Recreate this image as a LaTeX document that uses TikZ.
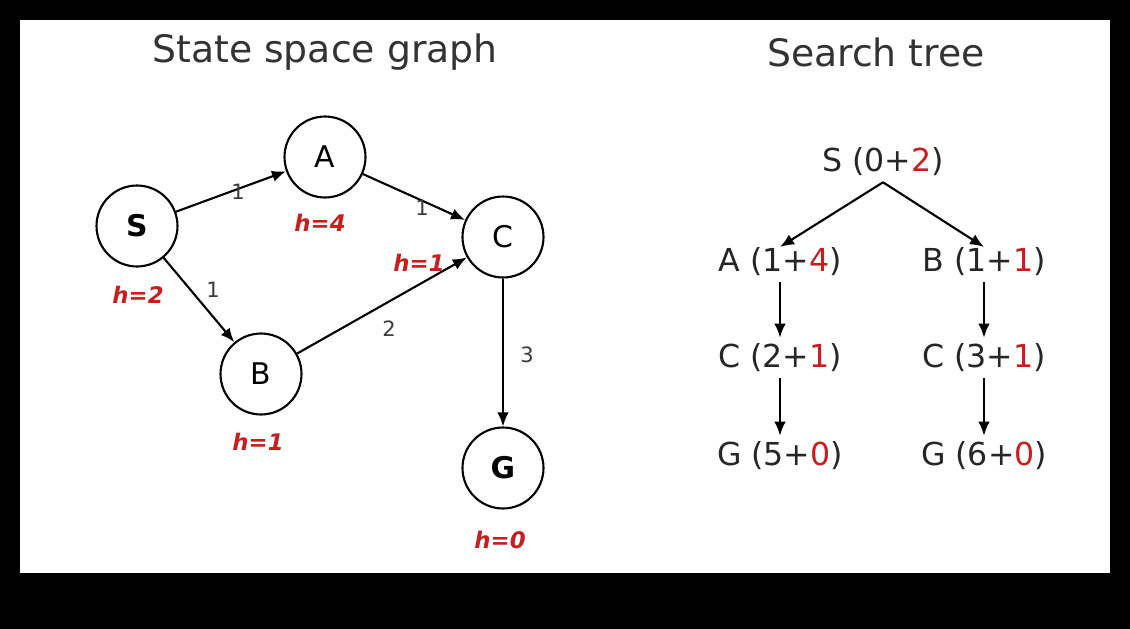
\documentclass[tikz,border=0pt]{standalone}
\usepackage{fontspec}
\setmainfont{DejaVu Sans}
\usepackage{tikz}
\usetikzlibrary{arrows.meta}
\definecolor{hred}{RGB}{200,30,30}
\definecolor{wgray}{RGB}{60,60,60}
\newcommand{\hpart}[1]{\textcolor{hred}{#1}}
\tikzset{
 state/.style={draw,circle,line width=1.2pt,minimum size=1.62cm,inner sep=0pt,font=\fontsize{17}{20}\selectfont},
 hval/.style={text=hred,font=\fontsize{13}{15}\selectfont\bfseries\itshape},
 wlabel/.style={text=wgray,font=\fontsize{12}{14}\selectfont},
 tlabel/.style={text=black!85,font=\fontsize{18}{21}\selectfont},
 title/.style={text=black!80,font=\fontsize{21.5}{25}\selectfont},
 arr/.style={-{Latex[length=2.8mm,width=2.3mm]},line width=1.2pt},
}

\begin{document}
\begin{tikzpicture}[x=0.02cm,y=-0.02cm]
 % frame
 \fill[black] (0,0) rectangle (1130,629);
 \fill[white] (20,20) rectangle (1110,573);

 % state space graph
 \node[title](gtitle) at (325,52){State space graph};
 \node[state](S) at (137,226){\textbf{S}};
 \node[state](A) at (325,157){A};
 \node[state](C) at (503,237){C};
 \node[state](B) at (261,374){B};
 \node[state](G) at (503,468){\textbf{G}};

 \node[hval](hS) at (138,295){h=2};
 \node[hval](hA) at (320,223){h=4};
 \node[hval](hC) at (419,263){h=1};
 \node[hval](hB) at (258,442){h=1};
 \node[hval](hG) at (500,540){h=0};

 \draw[arr](S) -- (A);
 \draw[arr](A) -- (C);
 \draw[arr](S) -- (B);
 \draw[arr](B) -- (C);
 \draw[arr](C) -- (G);

 \node[wlabel](wSA) at (238,192){1};
 \node[wlabel](wAC) at (422,208){1};
 \node[wlabel](wSB) at (213,290){1};
 \node[wlabel](wBC) at (389,329){2};
 \node[wlabel](wCG) at (527,355){3};

 % search tree
 \node[title](ttitle) at (876,52){Search tree};
 \node[tlabel](tS) at (883,162){S (0+\hpart{2})};
 \node[tlabel](tA) at (780,262){A (1+\hpart{4})};
 \node[tlabel](tB) at (984,262){B (1+\hpart{1})};
 \node[tlabel](tC1) at (780,358){C (2+\hpart{1})};
 \node[tlabel](tC2) at (984,358){C (3+\hpart{1})};
 \node[tlabel](tG1) at (780,456){G (5+\hpart{0})};
 \node[tlabel](tG2) at (984,456){G (6+\hpart{0})};

 \draw[arr](tS.south) -- ([yshift=-3]tA.north);
 \draw[arr](tS.south) -- ([yshift=-3]tB.north);
 \draw[arr](tA) -- (tC1);
 \draw[arr](tB) -- (tC2);
 \draw[arr](tC1) -- (tG1);
 \draw[arr](tC2) -- (tG2);
\end{tikzpicture}
\end{document}
